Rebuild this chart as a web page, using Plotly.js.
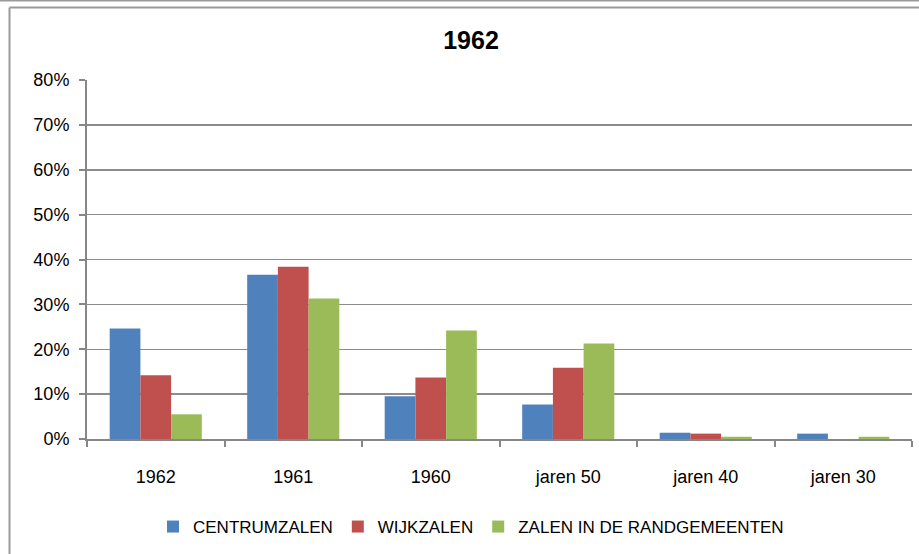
<!DOCTYPE html>
<html>
<head>
<meta charset="utf-8">
<script src="https://cdn.plot.ly/plotly-3.0.1.min.js"></script>
<style>html,body{margin:0;padding:0;background:#fff;}#chart{width:919px;height:554px;}</style>
</head>
<body>
<div id="chart"></div>
<script>
const categories = ["1962", "1961", "1960", "jaren 50", "jaren 40", "jaren 30"];
const seriesNames = ["CENTRUMZALEN", "WIJKZALEN", "ZALEN IN DE RANDGEMEENTEN"];
const centrumzalen = [0.246, 0.366, 0.095, 0.077, 0.014, 0.012];
const wijkzalen = [0.142, 0.384, 0.137, 0.159, 0.012, 0.0];
const randgemeenten = [0.055, 0.313, 0.242, 0.213, 0.005, 0.005];
const colors = ["#4F81BD", "#C0504D", "#9BBB59"];
const yTickVals = [0, 0.1, 0.2, 0.3, 0.4, 0.5, 0.6, 0.7, 0.8];

const FONT = "Liberation Sans, Arial, sans-serif";
const values = [centrumzalen, wijkzalen, randgemeenten];
const traces = values.map((v, i) => ({
  type: "bar",
  name: seriesNames[i],
  x: categories,
  y: v,
  marker: {color: colors[i]},
  hoverinfo: "x+y+name"
}));

const W = 919, H = 554, L = 87, R = 7, T = 80, B = 115;
const pw = W - L - R, ph = H - T - B;
const px = v => (v - L) / pw;
const py = v => (H - B - v) / ph;

const layout = {
  width: W, height: H,
  margin: {l: L, r: R, t: T, b: B, pad: 0},
  paper_bgcolor: "#ffffff",
  plot_bgcolor: "#ffffff",
  font: {family: FONT, size: 18, color: "#000"},
  title: {text: "<b>1962</b>", font: {family: FONT, size: 25, color: "#000"},
          xref: "container", x: 471 / W, xanchor: "center",
          yref: "container", y: 1 - 40 / H, yanchor: "middle"},
  barmode: "group",
  bargap: 0.33,
  bargroupgap: 0,
  showlegend: true,
  legend: {orientation: "h", xref: "container", x: 471 / W, xanchor: "center",
           yref: "container", y: 1 - 527 / H, yanchor: "middle",
           font: {family: FONT, size: 17, color: "#000"}, traceorder: "normal"},
  xaxis: {
    type: "category",
    showline: true, linecolor: "#878787", linewidth: 2,
    ticks: "outside", tickson: "boundaries", ticklen: 6, tickcolor: "#878787", tickwidth: 2,
    showgrid: false, zeroline: false,
    ticklabelstandoff: 20,
    tickfont: {family: FONT, size: 18, color: "#000"}
  },
  yaxis: {
    range: [0, 0.8],
    tickvals: yTickVals,
    tickformat: ".0%",
    showline: true, linecolor: "#878787", linewidth: 2,
    ticks: "outside", ticklen: 6, tickcolor: "#878787", tickwidth: 2,
    showgrid: true, gridcolor: "#8c8c8c", gridwidth: 1.5,
    zeroline: false,
    ticklabelstandoff: 6,
    tickfont: {family: FONT, size: 18, color: "#000"}
  },
  shapes: [
    {type: "line", xref: "paper", yref: "paper", x0: px(0), x1: px(W), y0: py(0.5), y1: py(0.5),
     line: {color: "#9a9a9a", width: 2}},
    {type: "line", xref: "paper", yref: "paper", x0: px(9.5), x1: px(W), y0: py(7.5), y1: py(7.5),
     line: {color: "#9a9a9a", width: 2}},
    {type: "line", xref: "paper", yref: "paper", x0: px(9.5), x1: px(9.5), y0: py(7.5), y1: py(H),
     line: {color: "#9a9a9a", width: 2}}
  ]
};

Plotly.newPlot("chart", traces, layout, {displayModeBar: false, staticPlot: true});
</script>
</body>
</html>
